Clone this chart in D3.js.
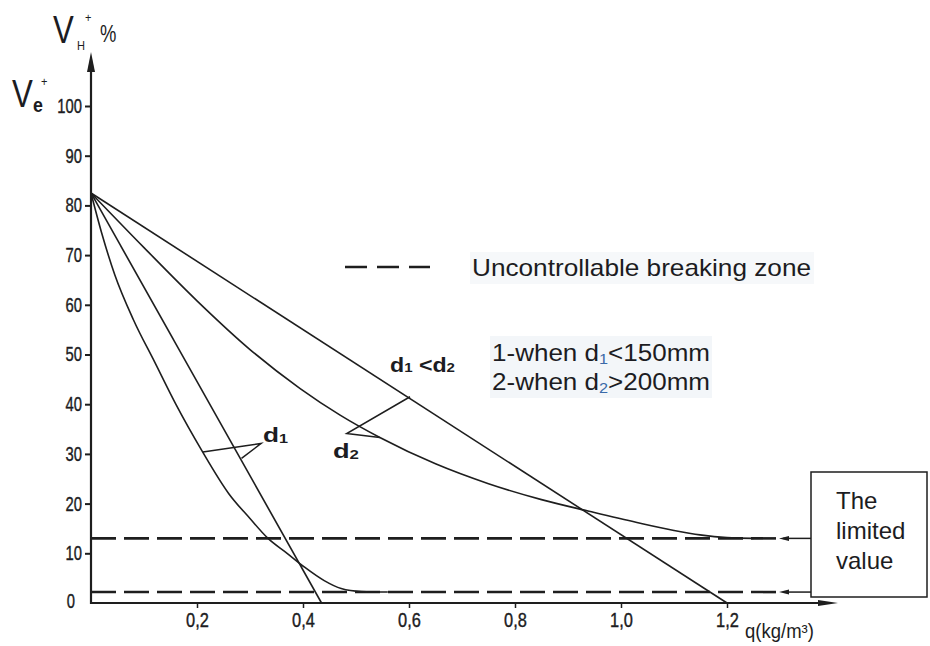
<!DOCTYPE html>
<html>
<head>
<meta charset="utf-8">
<script src="https://cdn.jsdelivr.net/npm/d3@7"></script>
<style>
  html, body { margin: 0; padding: 0; background: #fff; }
  svg { display: block; }
  text { font-family: "Liberation Sans", Arial, sans-serif; }
  .tky { font-size: 20px; stroke: #1c1c22; stroke-width: 0.4px; }
  .tkx { font-size: 20.5px; stroke: #1c1c22; stroke-width: 0.4px; }
</style>
</head>
<body>
<svg id="chart" width="930" height="646"></svg>
<script>
// ---------- data ----------
const xTickValues = [0.2, 0.4, 0.6, 0.8, 1.0, 1.2];
const yTickValues = [0, 10, 20, 30, 40, 50, 60, 70, 80, 90, 100];

// straight line for d1 (ends at q ≈ 0.435)
const lineD1 = [[0, 82.5], [0.435, 0]];
// straight line for d2 (ends at q = 1.2)
const lineD2 = [[0, 82.5], [1.2, 0]];
// curve d1
const curveD1 = [[0, 82.5], [0.02, 74.5], [0.045, 66], [0.08, 57], [0.12, 48.5], [0.16, 40], [0.21, 30.5],
                 [0.26, 22], [0.30, 17], [0.334, 13], [0.37, 10], [0.403, 7.2], [0.44, 4.5], [0.472, 2.9],
                 [0.51, 2.3], [0.56, 2.2]];
// curve d2
const curveD2 = [[0, 82.5], [0.1, 71.5], [0.2, 60.8], [0.3, 51], [0.394, 43.2], [0.47, 37.8], [0.545, 33.3],
                 [0.65, 28], [0.75, 24], [0.85, 20.8], [0.942, 18.4], [1.03, 16.2], [1.1, 14.6],
                 [1.149, 13.7], [1.2, 13.15], [1.25, 13]];
// limit values (uncontrollable breaking zone)
const limitValues = [13, 2.2];

// annotation leaders [point on curve, tip, point]
const leaderD1 = [[0.211, 30.4], [0.321, 32.1], [0.284, 29.1]];
const leaderD2 = [[0.602, 41.5], [0.4825, 34.1], [0.545, 33.3]];

// ---------- drawing ----------
const svg = d3.select("#chart");
const x = d3.scaleLinear().domain([0, 1.2]).range([91, 727]);
const y = d3.scaleLinear().domain([0, 100]).range([603, 106]);
const ink = "#1e1e1e";
const txt = "#1c1c22";

const line = d3.line().x(d => x(d[0])).y(d => y(d[1]));
const curve = d3.line().x(d => x(d[0])).y(d => y(d[1])).curve(d3.curveMonotoneX);

// condensed text helper (horizontal squeeze)
function nText(px, py, size, str, sx = 0.8, weight = "normal") {
  return svg.append("text")
    .attr("transform", `translate(${px},${py}) scale(${sx},1)`)
    .style("font-size", size + "px").attr("font-weight", weight).attr("fill", txt).text(str);
}

// dashed limit lines
const boxX = 811;
limitValues.forEach(v => {
  svg.append("line").attr("x1", x(0)).attr("x2", 783).attr("y1", y(v)).attr("y2", y(v))
    .attr("stroke", ink).attr("stroke-width", 2.6).attr("stroke-dasharray", "25,8");
  svg.append("line").attr("x1", 783).attr("x2", boxX).attr("y1", y(v)).attr("y2", y(v))
    .attr("stroke", ink).attr("stroke-width", 1.5);
  svg.append("path")
    .attr("d", `M${779},${y(v)} L${789},${y(v) - 2.5} L${789},${y(v) + 2.5} Z`)
    .attr("fill", ink);
});

// curves and lines
[lineD1, lineD2].forEach(d => {
  svg.append("path").attr("d", line(d)).attr("fill", "none").attr("stroke", ink).attr("stroke-width", 1.6);
});
[curveD1, curveD2].forEach(d => {
  svg.append("path").attr("d", curve(d)).attr("fill", "none").attr("stroke", ink).attr("stroke-width", 1.6);
});
[leaderD1, leaderD2].forEach(d => {
  svg.append("path").attr("d", line(d)).attr("fill", "none").attr("stroke", ink).attr("stroke-width", 1.5);
});

// axes
const ySx = 0.74;
const yAxis = d3.axisLeft(y).tickValues(yTickValues).tickSize(6).tickPadding(3).tickFormat(d3.format("d"));
const gy = svg.append("g").attr("transform", `translate(${x(0)},0)`).call(yAxis);
gy.attr("font-size", null).attr("font-family", null);
gy.select(".domain").remove();
gy.selectAll(".tick line").attr("stroke", ink).attr("stroke-width", 2);
gy.selectAll(".tick text").attr("class", "tky").attr("fill", txt)
  .attr("transform", `scale(${ySx},1)`).attr("x", -9 / ySx);
gy.selectAll(".tick").filter(d => d === 0).select("line").remove();
gy.selectAll(".tick").filter(d => d === 0).select("text").attr("x", -16 / ySx).attr("dy", "0.2em");

const xSx = 0.8;
const xAxis = d3.axisBottom(x).tickValues(xTickValues).tickSize(5).tickPadding(4)
  .tickFormat(d => d3.format(".1f")(d).replace(".", ","));
const gx = svg.append("g").attr("transform", `translate(0,${y(0)})`).call(xAxis);
gx.attr("font-size", null).attr("font-family", null);
gx.select(".domain").remove();
gx.selectAll(".tick line").attr("stroke", ink).attr("stroke-width", 1.5);
gx.selectAll(".tick text").attr("class", "tkx").attr("fill", txt)
  .attr("transform", `scale(${xSx},1)`);

// axis lines with arrows
svg.append("line").attr("x1", x(0)).attr("x2", x(0)).attr("y1", y(0) + 1).attr("y2", 70)
  .attr("stroke", ink).attr("stroke-width", 2.2);
svg.append("path").attr("d", `M${x(0)},52 L${x(0) - 4},72 L${x(0) + 4},72 Z`).attr("fill", ink);
svg.append("line").attr("x1", x(0) - 1).attr("x2", 822).attr("y1", y(0)).attr("y2", y(0))
  .attr("stroke", ink).attr("stroke-width", 2.2);
svg.append("path").attr("d", `M838,${y(0)} L818,${y(0) - 3} L818,${y(0) + 3} Z`).attr("fill", ink);

// axis titles
nText(53, 43, 38, "V", 0.82);
nText(77, 50, 13, "H", 0.85);
nText(85, 22, 13, "+", 0.85);
nText(100, 42, 23, "%", 0.8);

nText(12, 107, 39, "V", 0.8);
nText(33, 112, 21, "e", 0.85, "bold");
nText(41, 86, 13, "+", 0.85);

nText(745, 638, 19.5, "q(kg/m³)", 0.95);

// d-labels
const dl1 = svg.append("text").attr("x", 263).attr("y", 442)
  .style("font-size", "21px").attr("font-weight", "bold").attr("fill", txt)
  .attr("textLength", 25).attr("lengthAdjust", "spacingAndGlyphs");
dl1.append("tspan").text("d");
dl1.append("tspan").style("font-size", "13px").attr("dy", 1).text("1");

const dl2 = svg.append("text").attr("x", 333).attr("y", 458)
  .style("font-size", "21px").attr("font-weight", "bold").attr("fill", txt)
  .attr("textLength", 26).attr("lengthAdjust", "spacingAndGlyphs");
dl2.append("tspan").text("d");
dl2.append("tspan").style("font-size", "13px").attr("dy", 1).text("2");

const dl3 = svg.append("text").attr("x", 390).attr("y", 372)
  .style("font-size", "20px").attr("font-weight", "bold").attr("fill", txt)
  .attr("textLength", 65).attr("lengthAdjust", "spacingAndGlyphs");
dl3.append("tspan").text("d");
dl3.append("tspan").style("font-size", "13px").text("1");
dl3.append("tspan").text(" <d");
dl3.append("tspan").style("font-size", "13px").text("2");

// legend
svg.append("rect").attr("x", 470).attr("y", 252).attr("width", 344).attr("height", 32).attr("fill", "#f6f8fa");
svg.append("line").attr("x1", 345).attr("x2", 430).attr("y1", 267).attr("y2", 267)
  .attr("stroke", ink).attr("stroke-width", 2.6).attr("stroke-dasharray", "22,10");
svg.append("text").attr("x", 472).attr("y", 276).style("font-size", "24px")
  .attr("textLength", 339).attr("lengthAdjust", "spacingAndGlyphs")
  .attr("fill", txt).text("Uncontrollable breaking zone");

svg.append("rect").attr("x", 490).attr("y", 336).attr("width", 222).attr("height", 62).attr("fill", "#f3f6f9");
const n1 = svg.append("text").attr("x", 492).attr("y", 361).style("font-size", "24px")
  .attr("textLength", 218).attr("lengthAdjust", "spacingAndGlyphs").attr("fill", txt);
n1.append("tspan").text("1-when d");
n1.append("tspan").style("font-size", "15px").attr("dy", 3).attr("fill", "#3a6aa8").text("1");
n1.append("tspan").attr("dy", -3).text("<150mm");
const n2 = svg.append("text").attr("x", 492).attr("y", 390).style("font-size", "24px")
  .attr("textLength", 218).attr("lengthAdjust", "spacingAndGlyphs").attr("fill", txt);
n2.append("tspan").text("2-when d");
n2.append("tspan").style("font-size", "15px").attr("dy", 3).attr("fill", "#3a6aa8").text("2");
n2.append("tspan").attr("dy", -3).text(">200mm");

// limited value box
svg.append("rect").attr("x", boxX).attr("y", 472).attr("width", 116).attr("height", 125)
  .attr("fill", "#fff").attr("stroke", ink).attr("stroke-width", 1.5);
["The", "limited", "value"].forEach((s, i) => {
  svg.append("text").attr("x", 836).attr("y", 509 + i * 30)
    .style("font-size", "24px").attr("fill", txt).text(s);
});
</script>
</body>
</html>
